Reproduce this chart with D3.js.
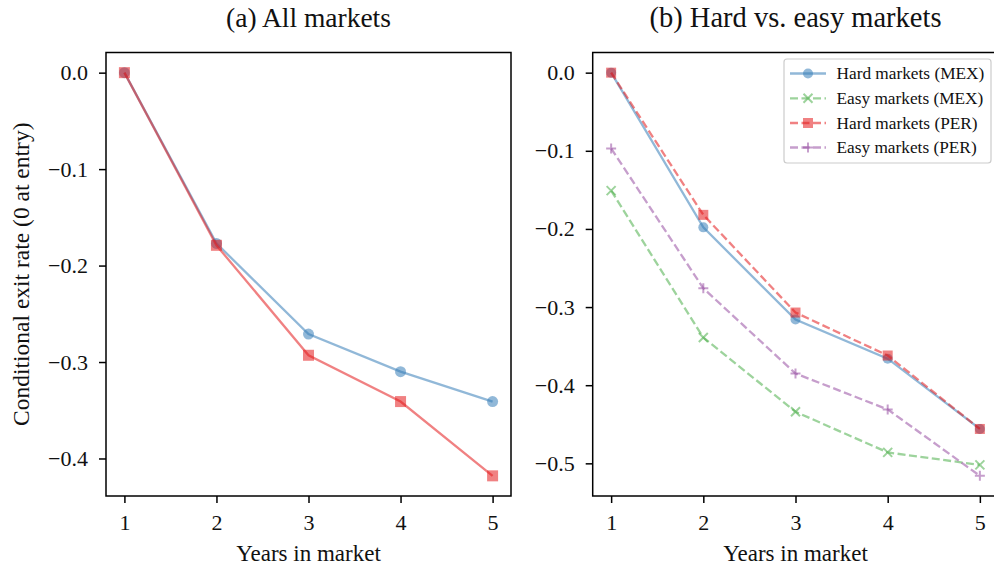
<!DOCTYPE html>
<html>
<head>
<meta charset="utf-8">
<script src="https://cdn.jsdelivr.net/npm/d3@7"></script>
<style>
  body { margin: 0; background: #fff; }
  svg { display: block; }
  text { font-family: "Liberation Serif", "Times New Roman", serif; fill: #111; }
</style>
</head>
<body>
<svg id="chart" width="994" height="569"></svg>
<script>
// ---- Data ----
const years = [1, 2, 3, 4, 5];
const yTicksA = [0.0, -0.1, -0.2, -0.3, -0.4];
const yTicksB = [0.0, -0.1, -0.2, -0.3, -0.4, -0.5];
const xTicks = [1, 2, 3, 4, 5];

// Panel (a): all markets
const allMEX = [0.0, -0.177, -0.271, -0.310, -0.341];
const allPER = [0.0, -0.179, -0.293, -0.341, -0.418];

// Panel (b): hard vs easy
const hardMEX = [0.0, -0.198, -0.316, -0.366, -0.456];
const easyMEX = [-0.151, -0.339, -0.434, -0.486, -0.502];
const hardPER = [0.0, -0.182, -0.307, -0.362, -0.456];
const easyPER = [-0.097, -0.276, -0.385, -0.431, -0.516];

const titles = ["(a) All markets", "(b) Hard vs. easy markets"];
const xLabel = "Years in market";
const yLabel = "Conditional exit rate (0 at entry)";
const legendLabels = ["Hard markets (MEX)", "Easy markets (MEX)", "Hard markets (PER)", "Easy markets (PER)"];

const BLUE = "#377eb8", GREEN = "#4daf4a", RED = "#e41a1c", PURPLE = "#984ea3";
const ALPHA = 0.55;

const svg = d3.select("#chart");

function padDomain(vals) {
  const lo = d3.min(vals), hi = d3.max(vals);
  const m = (hi - lo) * 0.05;
  return [hi + m, lo - m];
}

function drawMarker(g, type, x, y, color, size) {
  const s = size;
  if (type === "circle") {
    g.append("circle").attr("cx", x).attr("cy", y).attr("r", s / 2)
      .attr("fill", color).attr("fill-opacity", ALPHA);
  } else if (type === "square") {
    g.append("rect").attr("x", x - s / 2).attr("y", y - s / 2).attr("width", s).attr("height", s)
      .attr("fill", color).attr("fill-opacity", ALPHA);
  } else if (type === "x") {
    const h = s / 2;
    g.append("path").attr("d", `M${x - h},${y - h}L${x + h},${y + h}M${x - h},${y + h}L${x + h},${y - h}`)
      .attr("stroke", color).attr("stroke-opacity", ALPHA).attr("stroke-width", 2).attr("fill", "none");
  } else if (type === "plus") {
    const h = s / 2;
    g.append("path").attr("d", `M${x - h},${y}L${x + h},${y}M${x},${y - h}L${x},${y + h}`)
      .attr("stroke", color).attr("stroke-opacity", ALPHA).attr("stroke-width", 2).attr("fill", "none");
  }
}

function panel(opts) {
  const { left, right, top, bottom, series, yTicks, title, titleSize, showYLabel } = opts;
  const allVals = series.flatMap(s => s.values);
  const x = d3.scaleLinear().domain([0.8, 5.2]).range([left, right]);
  const y = d3.scaleLinear().domain(padDomain(allVals)).range([top, bottom]);

  const g = svg.append("g");

  // lines + markers
  const line = d3.line().x((d, i) => x(years[i])).y(d => y(d));
  series.forEach(s => {
    g.append("path").datum(s.values).attr("d", line)
      .attr("fill", "none").attr("stroke", s.color).attr("stroke-opacity", ALPHA)
      .attr("stroke-width", 2.3)
      .attr("stroke-dasharray", s.dash ? "8,3.5" : null);
    s.values.forEach((v, i) => drawMarker(g, s.marker, x(years[i]), y(v), s.color, s.msize));
  });

  // axes
  const xAxis = d3.axisBottom(x).tickValues(xTicks).tickSize(7).tickPadding(11).tickFormat(d3.format("d"));
  const yAxis = d3.axisLeft(y).tickValues(yTicks).tickSize(7).tickPadding(11)
    .tickFormat(d => (d < 0 ? "\u2212" : "") + Math.abs(d).toFixed(1));

  const gx = svg.append("g").attr("transform", `translate(0,${bottom})`).call(xAxis);
  const gy = svg.append("g").attr("transform", `translate(${left},0)`).call(yAxis);
  [gx, gy].forEach(a => {
    a.select(".domain").remove();
    a.selectAll(".tick line").attr("stroke", "#000").attr("stroke-width", 1.5);
    a.selectAll(".tick text").attr("font-size", 22).attr("font-family", "Liberation Serif").attr("fill", "#111");
  });

  // frame
  svg.append("rect").attr("x", left).attr("y", top).attr("width", right - left).attr("height", bottom - top)
    .attr("fill", "none").attr("stroke", "#000").attr("stroke-width", 1.5);

  // title
  svg.append("text").attr("x", (left + right) / 2).attr("y", 27).attr("text-anchor", "middle")
    .attr("font-size", titleSize).text(title);

  // x label
  svg.append("text").attr("x", (left + right) / 2).attr("y", 561).attr("text-anchor", "middle")
    .attr("font-size", 23).text(xLabel);

  if (showYLabel) {
    svg.append("text").attr("transform", `translate(29,${(top + bottom) / 2}) rotate(-90)`)
      .attr("text-anchor", "middle").attr("font-size", 23.5).text(yLabel);
  }
  return { x, y };
}

panel({
  left: 106, right: 511, top: 52.5, bottom: 496,
  yTicks: yTicksA, title: titles[0], titleSize: 27.5, showYLabel: true,
  series: [
    { values: allMEX, color: BLUE, marker: "circle", msize: 11, dash: false },
    { values: allPER, color: RED, marker: "square", msize: 11, dash: false }
  ]
});

const seriesB = [
  { values: hardMEX, color: BLUE, marker: "circle", msize: 10, dash: false },
  { values: easyMEX, color: GREEN, marker: "x", msize: 9, dash: true },
  { values: hardPER, color: RED, marker: "square", msize: 10, dash: true },
  { values: easyPER, color: PURPLE, marker: "plus", msize: 10, dash: true }
];

panel({
  left: 592.7, right: 998.3, top: 52.5, bottom: 496,
  yTicks: yTicksB, title: titles[1], titleSize: 28.5, showYLabel: false,
  series: seriesB
});

// legend
const lg = svg.append("g");
lg.append("rect").attr("x", 784).attr("y", 59).attr("width", 207).attr("height", 104)
  .attr("rx", 3).attr("fill", "#fff").attr("fill-opacity", 0.8)
  .attr("stroke", "#cccccc").attr("stroke-width", 1.2);
const rowY = [73.5, 98.3, 123, 147.5];
seriesB.forEach((s, i) => {
  const yy = rowY[i];
  lg.append("line").attr("x1", 790).attr("x2", 826).attr("y1", yy).attr("y2", yy)
    .attr("stroke", s.color).attr("stroke-opacity", ALPHA).attr("stroke-width", 2.3)
    .attr("stroke-dasharray", s.dash ? "8,3.5" : null);
  drawMarker(lg, s.marker, 808, yy, s.color, s.msize);
  lg.append("text").attr("x", 836.5).attr("y", yy + 5.8).attr("font-size", 17.3).text(legendLabels[i]);
});
</script>
</body>
</html>
